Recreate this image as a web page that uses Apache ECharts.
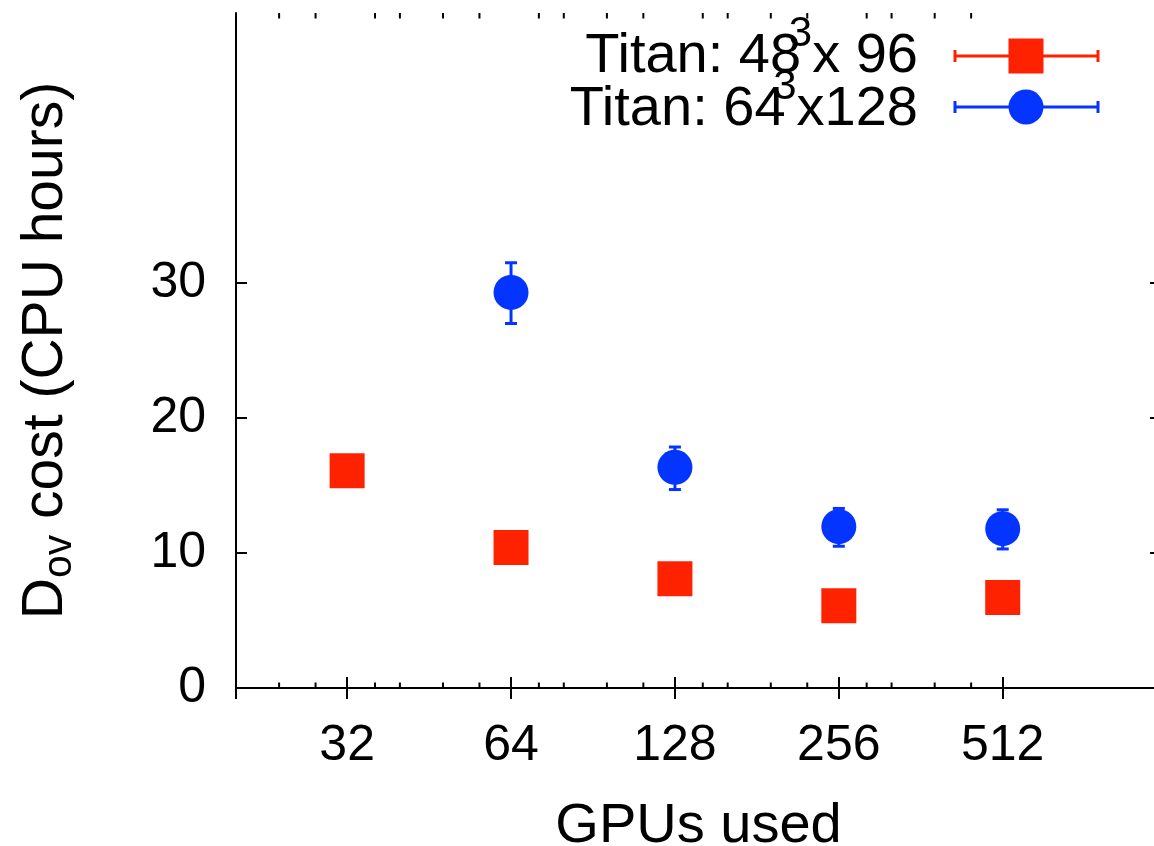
<!DOCTYPE html>
<html><head><meta charset="utf-8">
<script src="https://cdn.jsdelivr.net/npm/echarts@6/dist/echarts.min.js"></script>
<style>html,body{margin:0;padding:0;background:#fff}#c{width:1154px;height:846px}</style>
</head><body><div id="c"></div>
<script>
// ---- data ----
const gpus48 = [32, 64, 128, 256, 512];
const cost48 = [16.1, 10.4, 8.1, 6.1, 6.7];
const gpus64 = [64, 128, 256, 512];
const cost64 = [29.3, 16.35, 11.95, 11.8];
const cost64Low = [27.0, 14.7, 10.5, 10.3];
const cost64High = [31.5, 17.85, 13.3, 13.2];
const xMinorTicks = [24, 28, 36, 40, 48, 56, 72, 80, 96, 112, 144, 160, 192, 224, 288, 320, 384, 448];
const yTickValues = [0, 10, 20, 30];
const seriesNames = ['Titan: 48³x 96', 'Titan: 64³x128'];

// ---- style ----
const RED = '#ff2200';
const BLUE = '#0434ff';
const FONT = '"Liberation Sans", Arial, Helvetica, sans-serif';
const AX = '#000';

const chart = echarts.init(document.getElementById('c'), null, {renderer: 'canvas'});

const xBase = {
  type: 'log', logBase: 2, min: 20, max: 1000,
  axisLine: {show: true, lineStyle: {color: AX, width: 2}},
  splitLine: {show: false}
};

const supRich = {
  t: {fontSize: 56, fontFamily: FONT, fill: '#000', color: '#000'},
  p: {fontSize: 42, fontFamily: FONT, fill: '#000', color: '#000', width: 11, align: 'right', padding: [0, 0, 46, 0]}
};

const option = {
  animation: false,
  backgroundColor: '#fff',
  grid: {left: 236, top: 13, width: 925, height: 675, containLabel: false, outerBoundsMode: 'none'},
  xAxis: [
    Object.assign({}, xBase, {
      position: 'bottom',
      axisTick: {show: true, inside: true, length: 11, lineStyle: {color: AX, width: 2}},
      axisLabel: {show: true, showMinLabel: false, showMaxLabel: false, margin: 33,
        color: '#000', fontSize: 50, fontFamily: FONT,
        formatter: v => String(Math.round(v))},
      name: 'GPUs used', nameLocation: 'middle', nameGap: 111,
      nameTextStyle: {color: '#000', fontSize: 56, fontFamily: FONT}
    }),
    Object.assign({}, xBase, {
      position: 'top',
      axisTick: {show: true, inside: true, length: 11, lineStyle: {color: AX, width: 2}},
      axisLabel: {show: false}
    })
  ],
  yAxis: [
    {
      type: 'value', min: 0, max: 50, interval: 10, position: 'left',
      axisLine: {show: true, lineStyle: {color: AX, width: 2}},
      axisTick: {show: true, inside: true, length: 11, lineStyle: {color: AX, width: 2}, customValues: yTickValues},
      axisLabel: {show: true, margin: 30, color: '#000', fontSize: 50, fontFamily: FONT, customValues: yTickValues},
      splitLine: {show: false},
      name: '{d|D}{s|ov}{d| cost (CPU hours)}', nameLocation: 'middle', nameGap: 156, nameRotate: 90,
      nameTextStyle: {color: '#000', fontFamily: FONT, fontSize: 57,
        rich: {d: {fontSize: 57, fontFamily: FONT, color: '#000'},
               s: {fontSize: 41, fontFamily: FONT, color: '#000', padding: [26, 0, 0, 0]}}}
    },
    {
      type: 'value', min: 0, max: 50, interval: 10, position: 'right',
      axisLine: {show: true, lineStyle: {color: AX, width: 2}},
      axisTick: {show: true, inside: true, length: 11, lineStyle: {color: AX, width: 2}, customValues: yTickValues},
      axisLabel: {show: false},
      splitLine: {show: false}
    }
  ],
  series: [
    {
      type: 'custom', name: 'minorTicks', silent: true, clip: false,
      xAxisIndex: 0, yAxisIndex: 0,
      data: xMinorTicks.map(v => [v, 0]),
      renderItem: function (params, api) {
        const x = api.coord([api.value(0), 0])[0];
        const cs = params.coordSys;
        const st = {stroke: AX, lineWidth: 2};
        return {type: 'group', children: [
          {type: 'line', shape: {x1: x, y1: cs.y + cs.height, x2: x, y2: cs.y + cs.height - 5.5}, style: st},
          {type: 'line', shape: {x1: x, y1: cs.y, x2: x, y2: cs.y + 5.5}, style: st}
        ]};
      },
      z: 1
    },
    {
      type: 'custom', name: 'err64', silent: true,
      xAxisIndex: 0, yAxisIndex: 0,
      data: gpus64.map((g, i) => [g, cost64Low[i], cost64High[i]]),
      encode: {x: 0, y: [1, 2]},
      renderItem: function (params, api) {
        const lo = api.coord([api.value(0), api.value(1)]);
        const hi = api.coord([api.value(0), api.value(2)]);
        const w = 6;
        const st = {stroke: BLUE, lineWidth: 3};
        return {type: 'group', children: [
          {type: 'line', shape: {x1: lo[0], y1: lo[1], x2: hi[0], y2: hi[1]}, style: st},
          {type: 'line', shape: {x1: lo[0] - w, y1: lo[1], x2: lo[0] + w, y2: lo[1]}, style: st},
          {type: 'line', shape: {x1: hi[0] - w, y1: hi[1], x2: hi[0] + w, y2: hi[1]}, style: st}
        ]};
      },
      z: 2
    },
    {
      type: 'scatter', name: seriesNames[0], xAxisIndex: 0, yAxisIndex: 0,
      symbol: 'rect', symbolSize: 35,
      itemStyle: {color: RED, opacity: 1},
      data: gpus48.map((g, i) => [g, cost48[i]]),
      z: 3
    },
    {
      type: 'scatter', name: seriesNames[1], xAxisIndex: 0, yAxisIndex: 0,
      symbol: 'circle', symbolSize: 35,
      itemStyle: {color: BLUE, opacity: 1},
      data: gpus64.map((g, i) => [g, cost64[i]]),
      z: 3
    }
  ],
  graphic: [
    // legend row 1
    {type: 'text', z: 10, style: {
      x: 918, y: 57, align: 'right', verticalAlign: 'middle',
      text: '{t|Titan: 48}{p|3}{t|x 96}', rich: supRich
    }},
    {type: 'line', z: 10, shape: {x1: 955, y1: 56, x2: 1098, y2: 56}, style: {stroke: RED, lineWidth: 3}},
    {type: 'line', z: 10, shape: {x1: 955, y1: 50, x2: 955, y2: 62}, style: {stroke: RED, lineWidth: 3}},
    {type: 'line', z: 10, shape: {x1: 1098, y1: 50, x2: 1098, y2: 62}, style: {stroke: RED, lineWidth: 3}},
    {type: 'rect', z: 11, shape: {x: 1026 - 17.5, y: 56 - 17.5, width: 35, height: 35}, style: {fill: RED}},
    // legend row 2
    {type: 'text', z: 10, style: {
      x: 918, y: 110, align: 'right', verticalAlign: 'middle',
      text: '{t|Titan: 64}{p|3}{t|x128}', rich: supRich
    }},
    {type: 'line', z: 10, shape: {x1: 955, y1: 107, x2: 1098, y2: 107}, style: {stroke: BLUE, lineWidth: 3}},
    {type: 'line', z: 10, shape: {x1: 955, y1: 101, x2: 955, y2: 113}, style: {stroke: BLUE, lineWidth: 3}},
    {type: 'line', z: 10, shape: {x1: 1098, y1: 101, x2: 1098, y2: 113}, style: {stroke: BLUE, lineWidth: 3}},
    {type: 'circle', z: 11, shape: {cx: 1026, cy: 107, r: 17.5}, style: {fill: BLUE}}
  ]
};
chart.setOption(option);
</script>
</body></html>
